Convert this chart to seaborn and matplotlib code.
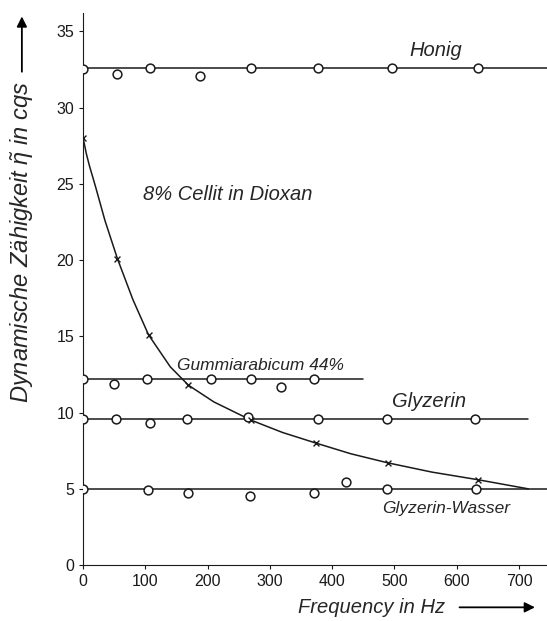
import numpy as np
import pandas as pd
import matplotlib
matplotlib.use("Agg")
import matplotlib.pyplot as plt
import seaborn as sns

sns.set_style("ticks")
plt.rcParams['font.family'] = ['Liberation Sans', 'DejaVu Sans']
plt.rcParams['mathtext.fontset'] = 'custom'
plt.rcParams['mathtext.it'] = 'Liberation Sans:italic'
plt.rcParams['mathtext.rm'] = 'Liberation Sans'

# --- data ---
honig_x = [0, 55, 108, 187, 270, 377, 496, 634]
honig_y = [32.5, 32.2, 32.6, 32.1, 32.6, 32.6, 32.6, 32.6]
honig_level = 32.6
honig_span = [0, 745]

gummi_x = [0, 49, 103, 206, 269, 317, 371]
gummi_y = [12.2, 11.9, 12.2, 12.2, 12.2, 11.7, 12.2]
gummi_level = 12.2
gummi_span = [0, 449]

glyz_x = [0, 53, 107, 167, 264, 377, 488, 630]
glyz_y = [9.6, 9.6, 9.3, 9.6, 9.7, 9.6, 9.6, 9.6]
glyz_level = 9.6
glyz_span = [0, 715]

gw_x = [0, 104, 169, 268, 370, 422, 488, 631]
gw_y = [5.0, 4.95, 4.7, 4.5, 4.7, 5.45, 5.0, 5.0]
gw_level = 5.0
gw_span = [0, 745]

cellit_x = [0, 55, 105, 169, 270, 374, 490, 634]
cellit_y = [28.0, 20.1, 15.1, 11.8, 9.5, 8.0, 6.7, 5.6]
# smooth curve
curve_x = [0, 5, 10, 20, 35, 55, 80, 105, 140, 169, 210, 270, 320, 374, 430, 490, 560, 634, 715]
curve_y = [28.0, 27.0, 26.2, 24.8, 22.6, 20.1, 17.4, 15.1, 13.0, 11.8, 10.7, 9.5, 8.7, 8.0, 7.3, 6.7, 6.1, 5.6, 5.0]

x_ticks = [0, 100, 200, 300, 400, 500, 600, 700]
y_ticks = [0, 5, 10, 15, 20, 25, 30, 35]

fig = plt.figure(figsize=(5.47, 6.21), dpi=100)
ax = fig.add_axes([0.152, 0.090, 0.848, 0.889])

line_kw = dict(color='#1a1a1a', linewidth=1.1, legend=False)
circ_kw = dict(marker='o', s=40, facecolor='white', edgecolor='#1a1a1a', linewidth=1.1, zorder=5, legend=False)

for lvl, span, xs, ys in [(honig_level, honig_span, honig_x, honig_y),
                          (gummi_level, gummi_span, gummi_x, gummi_y),
                          (glyz_level, glyz_span, glyz_x, glyz_y),
                          (gw_level, gw_span, gw_x, gw_y)]:
    sns.lineplot(x=span, y=[lvl, lvl], ax=ax, **line_kw)
    sns.scatterplot(x=xs, y=ys, ax=ax, **circ_kw)

sns.lineplot(x=curve_x, y=curve_y, ax=ax, sort=False, **line_kw)
sns.scatterplot(x=cellit_x, y=cellit_y, ax=ax, marker='x', s=18, color='#1a1a1a',
                linewidth=1.0, zorder=6, legend=False)

ax.set_xlim(0, 745)
ax.set_ylim(0, 36.2)
ax.set_xticks(x_ticks)
ax.set_yticks(y_ticks)
ax.tick_params(labelsize=11.5, length=3, width=0.8, colors='#1a1a1a')
sns.despine(ax=ax)
ax.spines['left'].set_color('#1a1a1a')
ax.spines['bottom'].set_color('#1a1a1a')
ax.set_xlabel('')
ax.set_ylabel('')

# curve labels
ax.text(567, 33.75, 'Honig', fontsize=14.5, style='italic', ha='center', va='center')
ax.text(233, 24.3, '8% Cellit in Dioxan', fontsize=14.5, style='italic', ha='center', va='center')
ax.text(285, 12.6, 'Gummiarabicum 44%', fontsize=12.5, style='italic', ha='center', va='bottom')
ax.text(555, 10.1, 'Glyzerin', fontsize=14.5, style='italic', ha='center', va='bottom')
ax.text(583, 3.7, 'Glyzerin-Wasser', fontsize=12.5, style='italic', ha='center', va='center')

# axis labels with arrows
fig.text(0.040, 0.610, r'Dynamische Zähigkeit $\tilde{\eta}$ in cqs', rotation=90,
         fontsize=17, style='italic', ha='center', va='center')
fig.add_artist(matplotlib.patches.FancyArrowPatch(
    (0.040, 0.880), (0.040, 0.978), transform=fig.transFigure,
    arrowstyle='-|>', mutation_scale=15, color='black', linewidth=1.3))

fig.text(0.680, 0.022, 'Frequency in Hz', fontsize=14.5, style='italic', ha='center', va='center')
fig.add_artist(matplotlib.patches.FancyArrowPatch(
    (0.835, 0.022), (0.983, 0.022), transform=fig.transFigure,
    arrowstyle='-|>', mutation_scale=15, color='black', linewidth=1.3))

fig.savefig('out.png', dpi=100)
